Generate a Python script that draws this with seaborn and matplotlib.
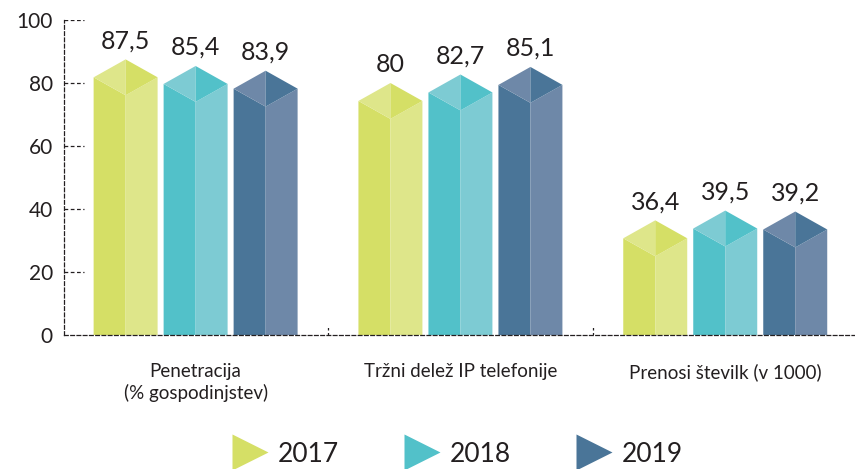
import pandas as pd
import matplotlib.pyplot as plt
import seaborn as sns
from matplotlib.patches import Polygon
from matplotlib.lines import Line2D

# data
categories = ["Penetracija\n(% gospodinjstev)", "Tržni delež IP telefonije", "Prenosi številk (v 1000)"]
years = ["2017", "2018", "2019"]
values_2017 = [87.5, 80.0, 36.4]
values_2018 = [85.4, 82.7, 39.5]
values_2019 = [83.9, 85.1, 39.2]
y_ticks = [0, 20, 40, 60, 80, 100]

dark_colors = ["#d5df66", "#52c1c9", "#4a7598"]
light_colors = ["#dee68a", "#7dcbd3", "#6e88a8"]
text_color = "#231f20"
roof_drop = 5.7  # vertical depth of the pyramid roof, in data units

df = pd.DataFrame({
    "category": categories * 3,
    "year": [y for y in years for _ in categories],
    "value": values_2017 + values_2018 + values_2019,
})

sns.set_theme(style="white")
plt.rcParams["font.family"] = ["Lato", "DejaVu Sans"]

fig = plt.figure(figsize=(8.55, 4.69), dpi=100)
ax = fig.add_axes([64 / 855, 1 - 335 / 469, 1 - 64 / 855, (335 - 20) / 469])

sns.barplot(data=df, x="category", y="value", hue="year", palette=dark_colors,
            width=0.793, gap=0.086, legend=False, ax=ax)

# turn each flat bar into a prism with a pyramid roof
for i, container in enumerate(ax.containers):
    dark, light = dark_colors[i], light_colors[i]
    for rect in container:
        x0, w, v = rect.get_x(), rect.get_width(), rect.get_height()
        xc, x1 = x0 + w / 2, x0 + w
        rect.set_visible(False)
        d = roof_drop
        faces = [
            ([(x0, 0), (xc, 0), (xc, v - 2 * d), (x0, v - d)], dark),
            ([(xc, 0), (x1, 0), (x1, v - d), (xc, v - 2 * d)], light),
            ([(x0, v - d), (xc, v), (xc, v - 2 * d)], light),
            ([(xc, v), (x1, v - d), (xc, v - 2 * d)], dark),
        ]
        for pts, c in faces:
            ax.add_patch(Polygon(pts, closed=True, facecolor=c, edgecolor="none"))
        label = f"{v:g}".replace(".", ",")
        ax.annotate(label, (xc, v), xytext=(0, 8), textcoords="offset points",
                    ha="center", va="baseline", fontsize=18, color=text_color)

ax.set_ylim(0, 100)
ax.set_xlim(-0.497, 2.49)
ax.set_yticks(y_ticks)
ax.set_xlabel("")
ax.set_ylabel("")
ax.tick_params(axis="both", length=0, colors=text_color)
ax.tick_params(axis="y", labelsize=15, pad=8)
ax.tick_params(axis="x", labelsize=13.5, pad=20)
for lab in ax.get_xticklabels():
    lab.set_verticalalignment("top")
    lab.set_linespacing(1.3)

for side in ["top", "right"]:
    ax.spines[side].set_visible(False)
for side in ["left", "bottom"]:
    ax.spines[side].set_linestyle((0, (3, 2)))
    ax.spines[side].set_color(text_color)
    ax.spines[side].set_linewidth(0.9)

# short dashed tick marks at each y tick and between groups
ax.hlines(y_ticks[1:], 0, 20 / 791, transform=ax.get_yaxis_transform(),
          colors=text_color, linestyles=(0, (3, 2)), linewidth=0.9)
ax.vlines([0.5, 1.5], 0, 3.2, colors=text_color, linestyles=(0, (2, 2)), linewidth=0.9)

handles = [Line2D([], [], linestyle="none", marker=">", markersize=26,
                  markerfacecolor=c, markeredgecolor="none") for c in dark_colors]
fig.legend(handles, years, loc="center", bbox_to_anchor=(458 / 855, 15 / 469), ncol=3,
           frameon=False, fontsize=19, handlelength=1.3, handletextpad=0.4,
           columnspacing=2.5, labelcolor=text_color)

plt.savefig("out.png", dpi=100)
